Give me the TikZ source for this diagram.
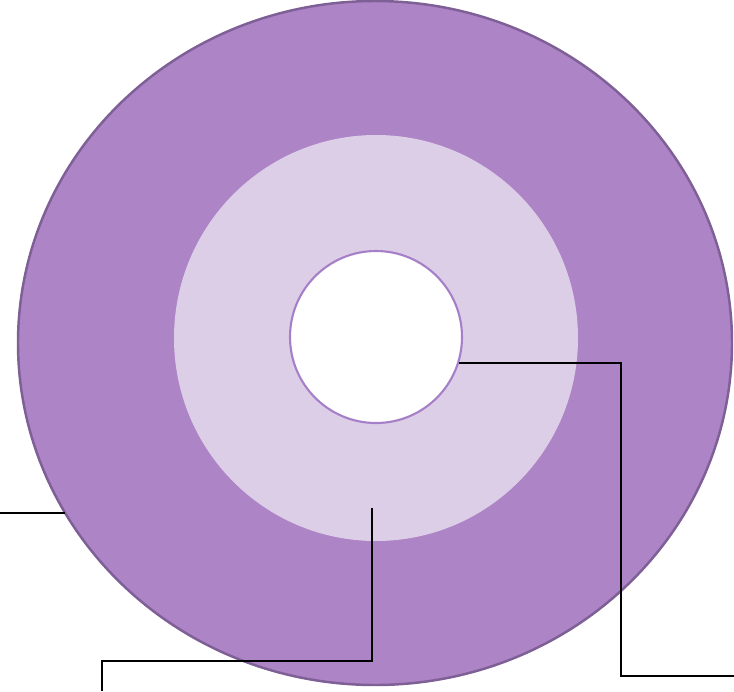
\documentclass[tikz,border=0pt]{standalone}
\usepackage{tikz}
\usetikzlibrary{positioning, calc}
\definecolor{discout}{HTML}{AD84C6}
\definecolor{discedge}{HTML}{7E5F96}
\definecolor{discmid}{HTML}{DDCEE8}
\definecolor{holeedge}{HTML}{A57FC8}
\tikzset{
  leader/.style={black,line width=1.3pt,line join=miter}
}
\begin{document}
\begin{tikzpicture}[x=0.02cm,y=-0.02cm,font=\small]
\useasboundingbox (0,0) rectangle (734,691);

% ==================== Dischi ====================
\fill[discout,draw=discedge,line width=1.4pt] (375,343) ellipse [x radius=357,y radius=342];
\fill[discmid] (376,338) ellipse [x radius=202,y radius=203];
\fill[white,draw=holeedge,line width=1.2pt] (376,337) circle (86);

% ==================== Linee di richiamo ====================
% Anello esterno
\coordinate (outerL) at (65,513);
\coordinate (outerE) at (0,513);
\draw[leader] (outerL) -- (outerE);

% Anello centrale
\coordinate (midS) at (372,508);
\coordinate (midE) at (102,691);
\draw[leader] (midS) |- ($(midE)+(0,-30)$) -- (midE);

% Foro
\coordinate (holeS) at (459,363);
\coordinate (holeE) at (734,676);
\draw[leader] (holeS) -| ($(holeE)+(-113,0)$) -- (holeE);

\end{tikzpicture}
\end{document}
